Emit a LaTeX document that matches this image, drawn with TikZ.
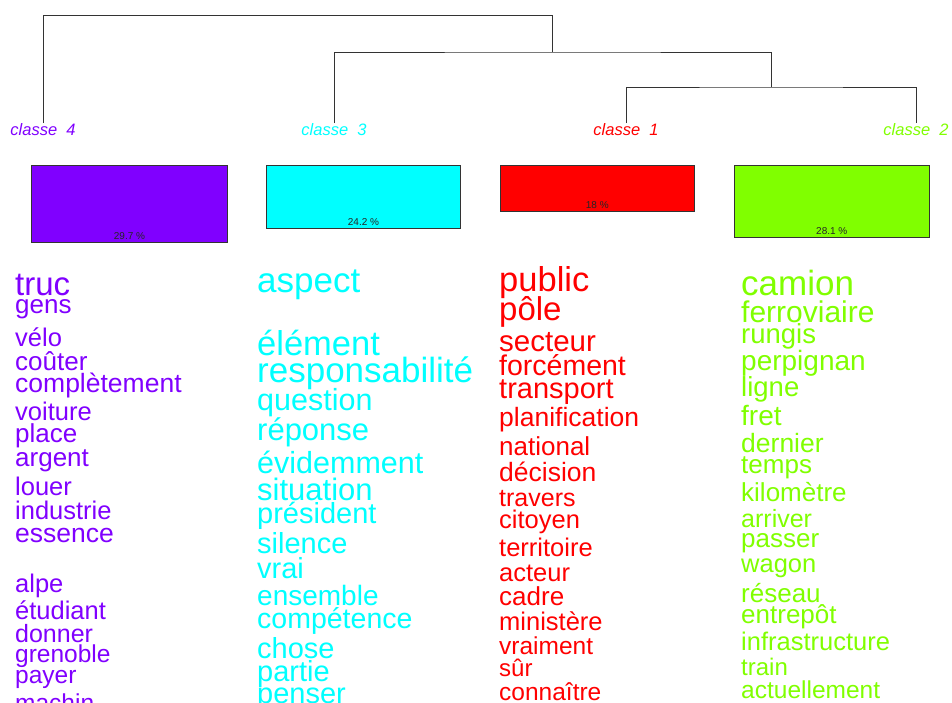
\documentclass[tikz,border=0pt]{standalone}
\usepackage{fontspec}
\setmainfont{Liberation Sans}
\definecolor{cone}{HTML}{FF0000}
\definecolor{ctwo}{HTML}{80FF00}
\definecolor{cthree}{HTML}{00FFFF}
\definecolor{cfour}{HTML}{8000FF}
\definecolor{lineg}{HTML}{333333}
\begin{document}
\begin{tikzpicture}[x=1pt,y=-1pt,
  dend/.style={draw=lineg, line width=1pt},
  clab/.style={anchor=base, inner sep=0pt, font=\fontsize{16.5}{16.5}\selectfont\itshape},
  pbox/.style={draw=lineg, line width=1pt, anchor=north west, inner sep=0pt},
  pct/.style={anchor=base, inner sep=0pt, text=black!85, font=\fontsize{10}{10}\selectfont},
  wrd/.style={anchor=base west, inner sep=0pt}]
\useasboundingbox (0,0) rectangle (952,702);
\clip (0,0) rectangle (952,702);

% dendrogram
\coordinate (L4) at (43,123);
\coordinate (L3) at (334,123);
\coordinate (L1) at (626,123);
\coordinate (L2) at (916,123);
\coordinate (J12) at (771,87);
\coordinate (J312) at (552.5,52);
\coordinate (Root) at (552.5,15);
\draw[dend] (L1) |- (J12) -| (L2);
\draw[dend] (L3) |- (J312) -| (J12);
\draw[dend] (L4) |- (Root) -- (J312);

% class labels
\node[clab, text=cfour] (cl4) at (43,135) {classe\ \ 4};
\node[clab, text=cthree] (cl3) at (334,135) {classe\ \ 3};
\node[clab, text=cone] (cl1) at (626,135) {classe\ \ 1};
\node[clab, text=ctwo] (cl2) at (916,135) {classe\ \ 2};

% boxes
\node[pbox, fill=cfour, minimum width=196pt, minimum height=76.5pt] (b4) at (31,165) {};
\node[pbox, fill=cthree, minimum width=194pt, minimum height=62.5pt] (b3) at (266,165) {};
\node[pbox, fill=cone, minimum width=194.5pt, minimum height=46pt] (b1) at (499.5,165) {};
\node[pbox, fill=ctwo, minimum width=195.5pt, minimum height=72pt] (b2) at (733.5,165) {};
\node[pct] (p4) at ([yshift=3.5pt]b4.south) {29.7 \%};
\node[pct] (p3) at ([yshift=3.5pt]b3.south) {24.2 \%};
\node[pct] (p1) at ([yshift=3.5pt]b1.south) {18 \%};
\node[pct] (p2) at ([yshift=3.5pt]b2.south) {28.1 \%};

% words, classe 4
\foreach \yy/\ss/\ww [count=\i] in {295/33/truc, 313/26/gens, 346/25.5/vélo, 370/26/coûter,
  392/26.5/complètement, 420/25.5/voiture, 442/26/place, 466/26/argent, 495/25.5/louer,
  519/25.5/industrie, 542/26.5/essence, 592/25.5/alpe, 619/25.5/étudiant, 642/25/donner,
  662/24.5/grenoble, 683/24.5/payer, 711/24.5/machin}
  \node[wrd, text=cfour, font=\fontsize{\ss}{\ss}\selectfont] (wfour-\i) at (15,\yy) {\ww};

% words, classe 3
\foreach \yy/\ss/\ww [count=\i] in {292/35/aspect, 355/34.5/élément, 382/35/responsabilité,
  410/30.5/question, 440/31/réponse, 473/30.5/évidemment, 500/31/situation, 523/29/président,
  553/29/silence, 578/29/vrai, 605/28/ensemble, 628/28.5/compétence, 658/29/chose,
  681/29/partie, 703/29/penser}
  \node[wrd, text=cthree, font=\fontsize{\ss}{\ss}\selectfont] (wthree-\i) at (257,\yy) {\ww};

% words, classe 1
\foreach \yy/\ss/\ww [count=\i] in {291/34.5/public, 320/33/pôle, 351/29.5/secteur,
  375/28.5/forcément, 398/29/transport, 426/26.5/planification, 455/26/national,
  481/26.5/décision, 506/25/travers, 528/25.5/citoyen, 556/25.5/territoire, 581/25.5/acteur,
  605/26/cadre, 630/25.5/ministère, 654/24.5/vraiment, 676/24/sûr, 700/24.5/connaître}
  \node[wrd, text=cone, font=\fontsize{\ss}{\ss}\selectfont] (wone-\i) at (499,\yy) {\ww};

% words, classe 2
\foreach \yy/\ss/\ww [count=\i] in {295/35/camion, 322/30/ferroviaire, 343/27.5/rungis,
  370/28/perpignan, 396/27.5/ligne, 425/28/fret, 452/26.5/dernier, 473/26/temps,
  501/26/kilomètre, 527/25/arriver, 547/26/passer, 572/25.5/wagon, 602/26/réseau,
  623/26/entrepôt, 650/25.5/infrastructure, 675/24/train, 698/24.5/actuellement}
  \node[wrd, text=ctwo, font=\fontsize{\ss}{\ss}\selectfont] (wtwo-\i) at (741,\yy) {\ww};
\end{tikzpicture}
\end{document}
